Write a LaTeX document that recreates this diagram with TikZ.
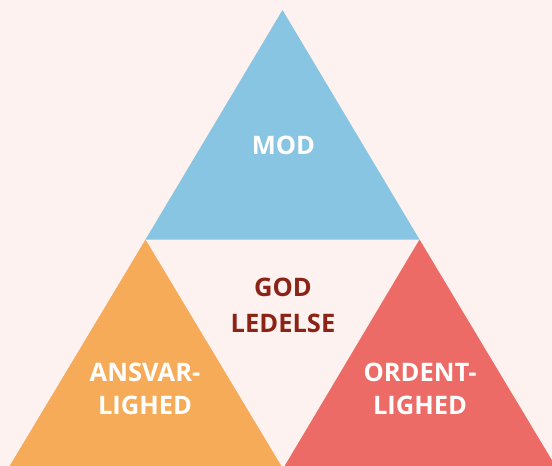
\documentclass[tikz,border=0pt]{standalone}
\usepackage{fontspec}
\setsansfont{Open Sans}
\usepackage{xcolor}

\definecolor{bgpink}{HTML}{FDF2EF}
\definecolor{modblue}{HTML}{88C5E2}
\definecolor{ansorange}{HTML}{F6AB58}
\definecolor{ordred}{HTML}{EC6B66}
\definecolor{goddark}{HTML}{8B2417}

\tikzset{
    label/.style={font=\sffamily\bfseries\fontsize{25.5}{33}\selectfont, text=white,
        align=center, inner sep=0pt, anchor=north},
}

\begin{document}
\begin{tikzpicture}[x=1pt, y=-1pt]
    % Background
    \clip (0,0) rectangle (552,466);
    \fill[bgpink] (0,0) rectangle (552,466);

    % Top triangle
    \fill[modblue] (282.5,10) -- (145.5,239.5) -- (419.5,239.5) -- cycle;
    \node[label] (mod) at (283.5,136) {MOD};

    % Bottom left triangle
    \fill[ansorange] (145.5,239.5) -- (9,467) -- (282,467) -- cycle;
    \node[label] (ansvar) at (145,363) {ANSVAR-\\LIGHED};

    % Bottom right triangle
    \fill[ordred] (419.5,239.5) -- (284,467) -- (556,467) -- cycle;
    \node[label] (ordent) at (420,363) {ORDENT-\\LIGHED};

    % Centre text
    \node[label, text=goddark, font=\sffamily\bfseries\fontsize{25.5}{36}\selectfont]
        (god) at (283,278) {GOD\\LEDELSE};
\end{tikzpicture}
\end{document}
